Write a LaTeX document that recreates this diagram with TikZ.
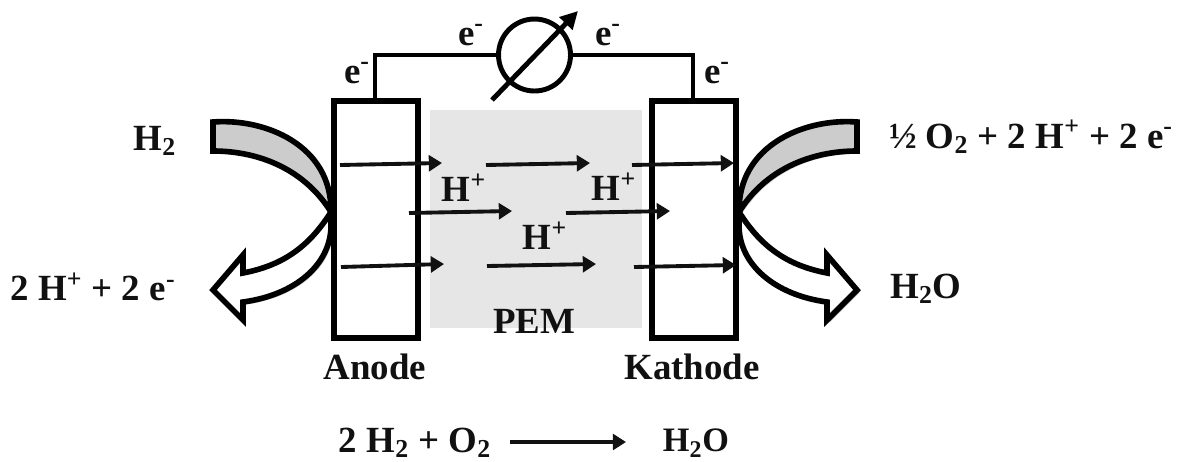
\documentclass[tikz,border=0pt]{standalone}
\usepackage{fontspec}
\setmainfont{Liberation Serif}
\usepackage{tikz}
\usetikzlibrary{arrows.meta,shapes,shadows}
\definecolor{pemgray}{HTML}{E6E6E6}
\definecolor{bandgray}{HTML}{CCCCCC}
\definecolor{inkblack}{HTML}{111111}
\newcommand{\hplus}{H\textsuperscript{+}}
\newcommand{\eminus}{e\textsuperscript{-}}
\newcommand{\hdrei}{H\textsubscript{2}}
\newcommand{\odrei}{O\textsubscript{2}}

\begin{document}
\begin{tikzpicture}[x=0.02cm,y=-0.02cm]
            \tikzstyle{lab}=[font=\fontsize{21}{23}\selectfont\bfseries,text=inkblack,inner sep=0pt]
            \tikzstyle{softshadow}=[drop shadow={shadow xshift=0.05cm,shadow yshift=-0.05cm,opacity=0.25,fill=black}]
            \tikzstyle{cell}=[rectangle,draw=black,line width=3.2pt,fill=white,minimum width=1.68cm,minimum height=4.74cm,inner sep=0pt,softshadow]
            \tikzstyle{flow}=[draw=black,line width=3.2pt,line join=miter,softshadow]
            \tikzstyle{wire}=[draw=black,line width=2.8pt]
            \tikzstyle{ion}=[draw=inkblack,line width=2.2pt,-{Triangle[length=7.5pt,width=9pt]}]

            \useasboundingbox (0,0) rectangle (1179,461);

            \node[rectangle,fill=pemgray,minimum width=4.24cm,minimum height=4.36cm,inner sep=0pt] (pem) at (536,219) {};
            \node[cell] (anode) at (376,219.5) {};
            \node[cell] (kathode) at (694,219.5) {};

            \path[flow,fill=bandgray] (213,122) .. controls (265,118) and (332,145) .. (331,212)
              .. controls (305,170) and (260,151) .. (213,151) -- cycle;
            \path[flow,fill=white] (331,212) .. controls (310,245) and (285,265) .. (243,273)
              -- (243,255) -- (213,290) -- (243,320) -- (243,302)
              .. controls (295,295) and (330,265) .. (331,227) -- cycle;
            \path[flow,fill=bandgray] (857,122) .. controls (805,118) and (738,145) .. (739,212)
              .. controls (765,170) and (810,151) .. (857,151) -- cycle;
            \path[flow,fill=white] (739,212) .. controls (760,245) and (785,265) .. (827,273)
              -- (827,255) -- (857,290) -- (827,320) -- (827,302)
              .. controls (775,295) and (740,265) .. (739,227) -- cycle;

            \node[circle,draw=black,line width=2.8pt,fill=white,minimum size=1.44cm,inner sep=0pt] (meter) at (534.5,55) {};
            \coordinate (wire-a) at (375,99);
            \coordinate (wire-k) at (693,99);
            \draw[wire] (wire-a) |- (meter.west);
            \draw[wire] (wire-k) |- (meter.east);
            \coordinate (needle-a) at (492,100);
            \coordinate (needle-b) at (578,11);
            \draw[wire,-{Triangle[length=10pt,width=10pt]}] (needle-a) -- (needle-b);

            \foreach \name/\xa/\ya/\xb/\yb in {a/340/165/442/163, b/486/165/590/163, c/632/165/734/163,
              d/409/213/512/211, e/566/213/670/211,
              f/341/267/444/264, g/487/266/596/264, h/634/267/736/265}
            {
              \coordinate (ion-\name-a) at (\xa,\ya);
              \coordinate (ion-\name-b) at (\xb,\yb);
              \draw[ion] (ion-\name-a) -- (ion-\name-b);
            }

            \foreach \name/\x/\y in {a/464/188, b/614/187, c/545/236}
              \node[lab] (hplus-\name) at (\x,\y) {\hplus};

            \foreach \name/\x/\y in {a/471/35, b/608/35, c/357/73, d/717/73}
              \node[lab] (eminus-\name) at (\x,\y) {\eminus};

            \node[lab] (lab-anode) at (375,367) {Anode};
            \node[lab] (lab-kathode) at (692,367) {Kathode};
            \node[lab] (lab-pem) at (534,321) {PEM};
            \node[lab] (lab-h2) at (155,141) {\hdrei};
            \node[lab] (lab-out) at (93,287) {2 \hplus{} + 2 \eminus};
            \node[lab] (lab-in) at (1031,137) {½ \odrei{} + 2 \hplus{} + 2 \eminus};
            \node[lab] (lab-water) at (926,289) {\hdrei O};

            \node[lab] (eq-left) at (415,443) {2 \hdrei{} + \odrei};
            \node[lab,font=\fontsize{19.5}{22}\selectfont\bfseries] (eq-right) at (696,443) {\hdrei O};
            \coordinate (eq-a) at (510,442);
            \coordinate (eq-b) at (626,442);
            \draw[ion] (eq-a) -- (eq-b);
        \end{tikzpicture}
\end{document}
